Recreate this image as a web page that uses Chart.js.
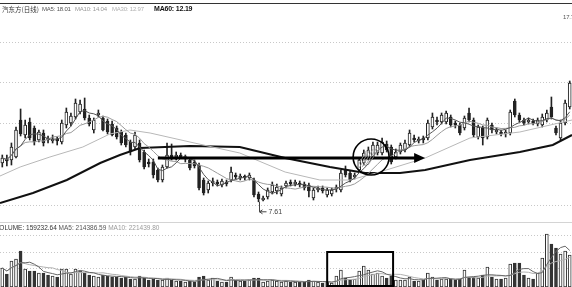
<!DOCTYPE html>
<html>
<head>
<meta charset="utf-8">
<script src="https://cdn.jsdelivr.net/npm/chart.js@4.4.1/dist/chart.umd.min.js"></script>
<style>
  body { margin:0; width:572px; height:287px; overflow:hidden; position:relative; background:#fff;
         font-family:"Liberation Sans", Arial, sans-serif; }
  canvas { position:absolute; left:0; }
  .lbl { position:absolute; font-size:6px; letter-spacing:-0.2px; line-height:1; white-space:nowrap; }
  .vol { position:absolute; font-size:6.5px; line-height:1; white-space:nowrap; left:-5px; top:225px; }
</style>
</head>
<body>
<div style="position:absolute;left:0;top:3px;width:572px;height:1px;background:#333"></div>
<div style="position:absolute;left:0;top:222px;width:572px;height:1px;background:#d4d4d4"></div>
<canvas id="priceChart" width="572" height="222" style="top:0"></canvas>
<canvas id="volChart" width="572" height="65" style="top:222px"></canvas>

<div class="lbl" style="left:2px;top:6px;color:#333;font-family:'Noto Sans CJK SC';font-size:6.5px;letter-spacing:0">汽东方(日线)</div>
<div class="lbl" style="left:42px;top:6px;color:#555">MA5: 18.01</div>
<div class="lbl" style="left:75px;top:6px;color:#9a9a9a">MA10: 14.04</div>
<div class="lbl" style="left:112px;top:6px;color:#b0b0b0">MA30: 12.97</div>
<div class="lbl" style="left:154px;top:5px;color:#111;font-weight:bold;font-size:7px">MA60: 12.19</div>
<div class="lbl" style="left:563px;top:14px;color:#555">17.71</div>

<div class="vol"><span style="color:#333">VOLUME: 159232.64</span> <span style="color:#555">MA5: 214386.59</span> <span style="color:#9a9a9a">MA10: 221439.80</span></div>

<script>
// daily candles, left to right
const opens = [
  9.55, 9.75, 9.70, 9.85, 11.70, 10.95, 11.60, 11.30, 10.70, 11.05,
  10.75, 10.65, 10.70, 10.60, 11.45, 11.55, 11.85, 12.10, 12.25, 11.80,
  11.20, 11.95, 11.80, 11.65, 11.50, 11.30, 11.10, 10.95, 10.60, 10.35,
  10.55, 10.10, 9.60, 9.60, 9.20, 8.70, 9.35, 9.95, 9.85, 9.95,
  9.75, 9.70, 9.60, 9.45, 8.70, 8.20, 8.55, 8.60, 8.45, 8.60,
  8.70, 8.95, 8.80, 8.85, 8.80, 8.70, 8.00, 7.70, 7.85, 8.10,
  8.15, 8.00, 8.40, 8.60, 8.50, 8.55, 8.50, 8.45, 7.80, 8.20,
  8.30, 7.95, 8.00, 8.25, 8.20, 9.20, 9.05, 8.85, 9.20, 9.55,
  9.80, 9.85, 10.05, 10.05, 10.50, 10.35, 9.85, 10.10, 10.20, 10.45,
  10.80, 10.65, 10.80, 10.80, 11.35, 11.70, 11.60, 11.60, 11.85, 11.55,
  11.45, 11.30, 12.05, 11.70, 10.85, 11.30, 10.85, 11.45, 11.10, 11.10,
  11.00, 11.05, 12.65, 11.95, 11.70, 11.60, 11.65, 11.50, 11.45, 11.70,
  12.35, 11.30, 10.80, 11.55, 12.35
];
const closes = [
  9.80, 9.65, 10.35, 11.20, 11.00, 11.45, 10.80, 10.60, 11.10, 10.55,
  10.70, 10.75, 10.65, 11.55, 12.10, 11.90, 12.55, 12.50, 11.80, 11.50,
  11.70, 12.05, 11.20, 11.10, 10.95, 10.85, 10.55, 10.45, 10.10, 10.95,
  9.70, 9.35, 9.50, 8.95, 8.70, 9.35, 9.95, 9.85, 9.95, 9.85,
  9.85, 9.30, 9.40, 8.30, 8.05, 8.55, 8.65, 8.50, 8.65, 8.50,
  9.10, 8.85, 8.90, 8.80, 8.95, 7.95, 7.75, 7.80, 8.20, 8.45,
  8.35, 8.30, 8.55, 8.50, 8.60, 8.45, 8.30, 8.15, 8.20, 8.30,
  8.15, 8.20, 8.20, 8.35, 9.05, 8.95, 8.70, 8.95, 9.70, 10.05,
  10.20, 10.45, 10.45, 10.60, 10.20, 9.60, 10.10, 10.45, 10.55, 11.05,
  10.70, 10.75, 10.70, 11.55, 11.85, 11.60, 11.95, 12.05, 11.45, 11.45,
  11.05, 11.80, 11.70, 10.95, 11.35, 10.80, 11.70, 11.20, 11.20, 11.00,
  11.10, 12.10, 11.95, 11.70, 11.55, 11.70, 11.55, 11.70, 11.85, 12.05,
  11.85, 11.05, 11.55, 12.55, 13.55
];
const highs = [
  9.95, 9.95, 10.55, 11.35, 12.25, 11.70, 11.80, 11.40, 11.20, 11.20,
  10.90, 10.95, 10.85, 11.70, 12.30, 12.05, 12.75, 12.70, 12.80, 11.95,
  11.80, 12.20, 11.90, 11.75, 11.65, 11.40, 11.20, 11.05, 10.70, 11.10,
  10.70, 10.20, 9.75, 9.75, 9.30, 9.45, 10.55, 10.50, 10.10, 10.05,
  9.95, 9.80, 9.70, 9.55, 8.80, 8.65, 8.80, 8.70, 8.75, 8.70,
  9.35, 9.05, 9.00, 8.95, 9.05, 8.80, 8.10, 7.90, 8.30, 8.60,
  8.50, 8.40, 8.65, 8.70, 8.70, 8.65, 8.60, 8.55, 8.30, 8.40,
  8.40, 8.30, 8.30, 8.45, 9.20, 9.40, 9.15, 9.05, 9.80, 10.20,
  10.35, 10.60, 10.60, 10.80, 10.65, 10.45, 10.25, 10.55, 10.70, 11.20,
  10.95, 10.85, 10.90, 11.70, 12.05, 11.85, 12.05, 12.15, 11.95, 11.65,
  11.55, 11.90, 12.30, 11.80, 11.45, 11.40, 11.80, 11.55, 11.30, 11.20,
  11.20, 12.20, 12.75, 12.05, 11.80, 11.80, 11.75, 11.80, 12.00, 12.20,
  12.85, 11.40, 11.70, 12.70, 13.65
];
const lows = [
  9.35, 9.40, 9.45, 9.80, 10.90, 10.80, 10.70, 10.45, 10.60, 10.40,
  10.55, 10.55, 10.45, 10.50, 11.30, 11.40, 11.75, 12.00, 11.70, 11.40,
  11.05, 11.85, 11.15, 11.00, 10.90, 10.75, 10.45, 10.35, 9.95, 10.25,
  9.60, 9.25, 9.35, 8.80, 8.60, 8.60, 9.30, 9.70, 9.70, 9.80,
  9.60, 9.20, 9.30, 8.20, 7.95, 8.05, 8.40, 8.40, 8.35, 8.40,
  8.60, 8.75, 8.70, 8.70, 8.70, 7.85, 7.61, 7.65, 7.75, 8.00,
  8.00, 7.90, 8.30, 8.40, 8.40, 8.35, 8.20, 7.85, 7.70, 8.10,
  8.05, 7.85, 7.90, 8.10, 8.10, 8.85, 8.60, 8.75, 9.10, 9.45,
  9.70, 9.75, 9.95, 9.95, 10.10, 9.50, 9.75, 10.00, 10.10, 10.35,
  10.60, 10.55, 10.55, 10.70, 11.25, 11.45, 11.50, 11.50, 11.35, 11.30,
  10.95, 11.20, 11.60, 10.85, 10.75, 10.45, 10.75, 11.05, 11.00, 10.90,
  10.85, 10.95, 11.85, 11.60, 11.45, 11.50, 11.45, 11.40, 11.35, 11.60,
  11.75, 10.95, 10.70, 11.45, 12.25
];
const volumes = [
  95000, 65000, 130000, 140000, 180000, 90000, 80000, 80000, 70000, 70000,
  60000, 55000, 50000, 90000, 90000, 65000, 90000, 80000, 70000, 60000,
  55000, 50000, 60000, 55000, 50000, 50000, 45000, 50000, 40000, 40000,
  55000, 45000, 35000, 40000, 35000, 35000, 45000, 35000, 30000, 30000,
  25000, 30000, 25000, 50000, 55000, 35000, 45000, 30000, 25000, 25000,
  50000, 35000, 30000, 30000, 35000, 45000, 45000, 25000, 30000, 35000,
  30000, 25000, 30000, 25000, 25000, 25000, 25000, 35000, 30000, 25000,
  20000, 25000, 20000, 55000, 85000, 45000, 35000, 40000, 80000, 105000,
  85000, 65000, 70000, 55000, 45000, 55000, 35000, 35000, 35000, 50000,
  30000, 30000, 35000, 70000, 50000, 35000, 40000, 40000, 40000, 35000,
  40000, 85000, 50000, 50000, 45000, 60000, 100000, 50000, 40000, 40000,
  45000, 115000, 120000, 120000, 60000, 45000, 40000, 70000, 145000, 265000,
  215000, 195000, 165000, 180000, 159233
];
// long averages: [candle index, price]
const ma30Points = [
  [-0.5, 8.90], [3.9, 9.35], [10.4, 9.85], [17.6, 10.35], [23.5, 11.00], [27.9, 11.20],
  [32.3, 11.05], [41.0, 10.60], [51.9, 10.05], [61.8, 9.10], [69.4, 8.70], [76.0, 8.70],
  [82.5, 9.10], [92.4, 9.80], [102.2, 10.80], [113.1, 11.10], [124.5, 11.70]
];
const ma60Points = [
  [-0.5, 7.55], [6.7, 8.05], [14.1, 8.70], [21.4, 9.55], [25.7, 9.95], [30.1, 10.30],
  [41.0, 10.40], [51.9, 10.35], [61.8, 9.80], [71.6, 9.35], [79.3, 9.05], [86.9, 9.05],
  [92.4, 9.20], [102.2, 9.70], [113.1, 10.10], [120.3, 10.45], [124.5, 10.95]
];
const priceGrid = [7.45, 11.55, 13.6, 15.6];
const volGrid = [95000, 177500, 260000];

// hand-drawn marks on the original
const arrowMark = { from: 34, to: 92.4, price: 9.8 };
const circleMark = { at: 80.6, price: 9.85, r: 18 };
const lowMark = { at: 56, price: 7.61, text: '7.61' };
const boxMark = { from: 71, to: 85.4, vol: 175000 };

const idx = opens.map((_, i) => i);
const up = idx.map(i => closes[i] >= opens[i]);
const xRange = { type: 'linear', min: -0.5, max: opens.length - 0.5, offset: false, display: false };

function movingAvg(vals, n) {
  return vals.map((v, i) => {
    const s = vals.slice(Math.max(0, i - n + 1), i + 1);
    return { x: i, y: s.reduce((a, b) => a + b, 0) / s.length };
  });
}
function maLine(data, color, width, order) {
  return { type: 'line', data, borderColor: color, borderWidth: width, pointRadius: 0, tension: 0, order };
}
function gridPlugin(values) {
  return {
    id: 'dotgrid',
    beforeDatasetsDraw(chart) {
      const { ctx, chartArea, scales: { y } } = chart;
      ctx.save();
      ctx.strokeStyle = '#c8c8c8';
      ctx.lineWidth = 1;
      ctx.setLineDash([1, 2]);
      values.forEach(v => {
        const py = Math.round(y.getPixelForValue(v)) + 0.5;
        ctx.beginPath(); ctx.moveTo(chartArea.left, py); ctx.lineTo(chartArea.right, py); ctx.stroke();
      });
      ctx.restore();
    }
  };
}

const marks = {
  id: 'marks',
  afterDatasetsDraw(chart) {
    const { ctx, scales: { x, y } } = chart;
    ctx.save();
    // arrow
    const ay = Math.round(y.getPixelForValue(arrowMark.price));
    const x1 = x.getPixelForValue(arrowMark.from), x2 = x.getPixelForValue(arrowMark.to);
    ctx.strokeStyle = '#000'; ctx.fillStyle = '#000'; ctx.lineWidth = 3;
    ctx.beginPath(); ctx.moveTo(x1, ay); ctx.lineTo(x2 - 8, ay); ctx.stroke();
    ctx.beginPath(); ctx.moveTo(x2, ay); ctx.lineTo(x2 - 11, ay - 5); ctx.lineTo(x2 - 11, ay + 5); ctx.closePath(); ctx.fill();
    // circle, with the faint hatching in its lower left
    const cx = x.getPixelForValue(circleMark.at), cy = y.getPixelForValue(circleMark.price);
    ctx.strokeStyle = '#9a9a9a'; ctx.lineWidth = 0.8;
    for (let k = 0; k < 5; k++) {
      ctx.beginPath();
      ctx.moveTo(cx - 15 + k * 3, cy + 12 - k);
      ctx.lineTo(cx - 5 + k * 3.5, cy - 6 - k);
      ctx.stroke();
    }
    ctx.strokeStyle = '#000'; ctx.lineWidth = 1.6;
    ctx.beginPath();
    ctx.arc(cx, cy, circleMark.r, 0, Math.PI * 2);
    ctx.stroke();
    // low label
    const lx = Math.round(x.getPixelForValue(lowMark.at)) + 0.5;
    const ly = y.getPixelForValue(lowMark.price);
    ctx.strokeStyle = '#444'; ctx.fillStyle = '#444'; ctx.lineWidth = 1;
    ctx.beginPath(); ctx.moveTo(lx, ly); ctx.lineTo(lx, ly + 10); ctx.lineTo(lx + 7, ly + 10); ctx.stroke();
    ctx.beginPath(); ctx.moveTo(lx, ly + 10); ctx.lineTo(lx + 3, ly + 8); ctx.moveTo(lx, ly + 10); ctx.lineTo(lx + 3, ly + 12); ctx.stroke();
    ctx.font = '7px "Liberation Sans", Arial, sans-serif';
    ctx.textBaseline = 'middle';
    ctx.fillText(lowMark.text, lx + 9, ly + 10.5);
    ctx.restore();
  }
};

const volBox = {
  id: 'volbox',
  afterDatasetsDraw(chart) {
    const { ctx, chartArea, scales: { x, y } } = chart;
    const bx = x.getPixelForValue(boxMark.from), ex = x.getPixelForValue(boxMark.to);
    const ty = y.getPixelForValue(boxMark.vol);
    ctx.save();
    ctx.strokeStyle = '#000'; ctx.lineWidth = 2;
    ctx.strokeRect(bx, ty, ex - bx, chartArea.bottom - 1 - ty);
    ctx.restore();
  }
};

const common = {
  responsive: false, animation: false, devicePixelRatio: 1,
  layout: { padding: 0 },
  plugins: { legend: { display: false }, tooltip: { enabled: false } }
};

new Chart(document.getElementById('priceChart'), {
  type: 'bar',
  data: {
    datasets: [
      maLine(movingAvg(closes, 5), '#555', 1, 0),
      maLine(movingAvg(closes, 10), '#9a9a9a', 1, 0),
      maLine(ma30Points.map(([px, py]) => ({ x: px, y: py })), '#b8b8b8', 1, 0),
      maLine(ma60Points.map(([px, py]) => ({ x: px, y: py })), '#111', 2, 0),
      {
        data: idx.map(i => ({ x: i, y: [lows[i], highs[i]] })),
        backgroundColor: '#222', barThickness: 1, grouped: false, order: 3
      },
      {
        data: idx.map(i => ({ x: i, y: [opens[i], closes[i]] })),
        backgroundColor: idx.map(i => up[i] ? '#fff' : '#222'),
        borderColor: '#222', borderWidth: 1, borderSkipped: false,
        barThickness: 3, minBarLength: 2, grouped: false, order: 2
      }
    ]
  },
  options: { ...common, scales: { x: xRange, y: { min: 6.6, max: 17.7, display: false } } },
  plugins: [gridPlugin(priceGrid), marks]
});

new Chart(document.getElementById('volChart'), {
  type: 'bar',
  data: {
    datasets: [
      maLine(movingAvg(volumes, 5), '#666', 1, 0),
      maLine(movingAvg(volumes, 10), '#b0b0b0', 1, 0),
      {
        data: idx.map(i => ({ x: i, y: volumes[i] })),
        backgroundColor: idx.map(i => up[i] ? '#fff' : '#333'),
        borderColor: '#333', borderWidth: 1, borderSkipped: false,
        barThickness: 3, grouped: false, order: 1
      }
    ]
  },
  options: { ...common, scales: { x: xRange, y: { min: 0, max: 325000, display: false } } },
  plugins: [gridPlugin(volGrid), volBox]
});
</script>
</body>
</html>
